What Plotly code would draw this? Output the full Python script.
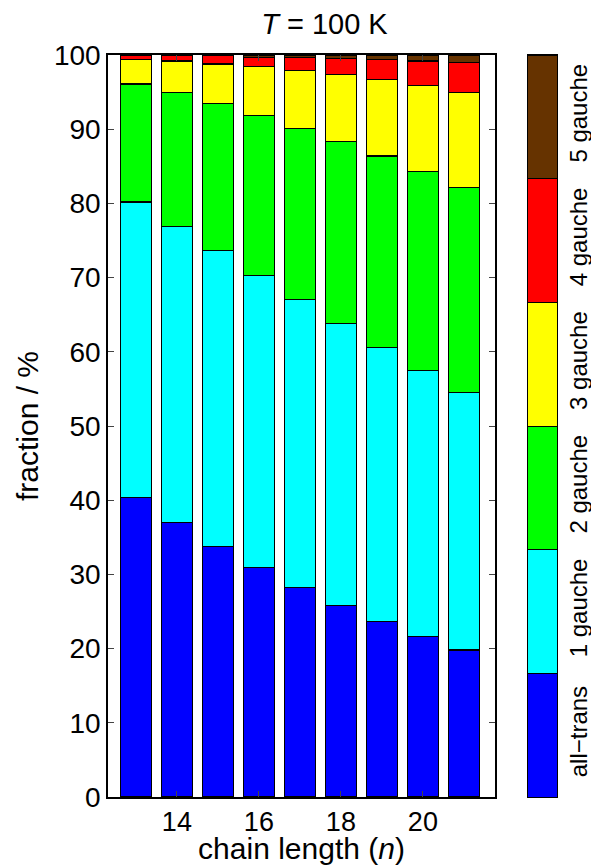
import plotly.graph_objects as go

# chain length n
chain_length = [13, 14, 15, 16, 17, 18, 19, 20, 21]

# fraction (%) of each conformer class
all_trans = [40.4, 37.0, 33.8, 30.9, 28.2, 25.8, 23.6, 21.6, 19.8]
gauche_1 = [39.8, 39.9, 39.8, 39.4, 38.8, 38.0, 37.0, 35.9, 34.7]
gauche_2 = [15.9, 18.0, 19.9, 21.5, 23.1, 24.5, 25.8, 26.8, 27.6]
gauche_3 = [3.3, 4.3, 5.3, 6.7, 7.8, 9.1, 10.3, 11.6, 12.9]
gauche_4 = [0.55, 0.75, 1.15, 1.2, 1.8, 2.15, 2.7, 3.3, 4.0]
gauche_5 = [0.05, 0.05, 0.05, 0.3, 0.3, 0.45, 0.6, 0.8, 1.0]

names = ["all\u2212trans", "1 gauche", "2 gauche", "3 gauche", "4 gauche", "5 gauche"]
colors = ["#0000ff", "#00ffff", "#00ff00", "#ffff00", "#ff0000", "#663300"]
series = [all_trans, gauche_1, gauche_2, gauche_3, gauche_4, gauche_5]

FONT = "Liberation Sans"

fig = go.Figure()

# main stacked bars
for name, col, vals in zip(names, colors, series):
    fig.add_trace(
        go.Bar(
            x=chain_length,
            y=vals,
            name=name,
            width=0.75,
            marker=dict(color=col, line=dict(color="black", width=1.2)),
            showlegend=False,
        )
    )

# colour key drawn as a one-column stacked bar on its own axes
for name, col in zip(names, colors):
    fig.add_trace(
        go.Bar(
            x=[0],
            y=[1],
            width=1,
            marker=dict(color=col, line=dict(color="black", width=1)),
            xaxis="x2",
            yaxis="y2",
            showlegend=False,
            hoverinfo="skip",
        )
    )

fig.update_layout(
    width=591,
    height=865,
    barmode="stack",
    plot_bgcolor="white",
    paper_bgcolor="white",
    font=dict(family=FONT, size=28, color="black"),
    margin=dict(l=108, r=34, t=55, b=68),
    title=dict(
        text="<i>T</i> = 100 K",
        font=dict(family=FONT, size=29),
        x=0.482,
        xanchor="center",
        xref="paper",
        y=0.973,
        yref="container",
        yanchor="middle",
    ),
    xaxis=dict(
        domain=[0, 0.862],
        range=[12.32, 21.76],
        tickvals=[14, 16, 18, 20],
        tickfont=dict(family=FONT, size=27),
        ticks="inside",
        ticklen=6,
        tickwidth=1.2,
        showline=True,
        linecolor="black",
        linewidth=1.5,
        mirror="allticks",
        showgrid=False,
        zeroline=False,
        automargin=False,
        title=dict(
            text="chain length (<i>n</i>)",
            font=dict(family=FONT, size=30),
            standoff=0,
        ),
    ),
    yaxis=dict(
        range=[0, 100],
        dtick=10,
        ticks="inside",
        ticklen=6,
        tickwidth=1.2,
        showline=True,
        linecolor="black",
        linewidth=1.5,
        mirror="allticks",
        showgrid=False,
        zeroline=False,
        automargin=False,
        title=dict(
            text="fraction / %",
            font=dict(family=FONT, size=30),
            standoff=6,
        ),
    ),
    xaxis2=dict(
        domain=[0.9354, 1.0],
        anchor="y2",
        range=[-0.5, 0.5],
        showticklabels=False,
        ticks="",
        showline=True,
        linecolor="black",
        linewidth=1.2,
        mirror=True,
        showgrid=False,
        zeroline=False,
        automargin=False,
    ),
    yaxis2=dict(
        anchor="x2",
        side="right",
        range=[0, 6],
        tickvals=[0.5, 1.5, 2.5, 3.5, 4.5, 5.5],
        ticktext=names,
        tickangle=-90,
        tickfont=dict(family=FONT, size=24),
        ticks="",
        showline=True,
        linecolor="black",
        linewidth=1.2,
        mirror=True,
        showgrid=False,
        zeroline=False,
        automargin=False,
    ),
)

# drop the default page margin so the figure sits at the window's corner
fig.write_html(
    "out.html",
    config={"displayModeBar": False},
    post_script="document.body.style.margin = '0px';",
)
